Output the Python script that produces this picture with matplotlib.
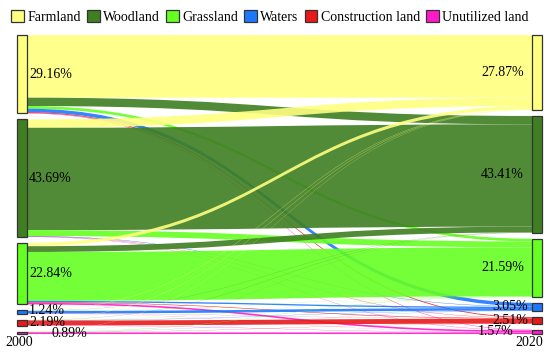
import numpy as np
import matplotlib
matplotlib.use("Agg")
import matplotlib.pyplot as plt
from matplotlib.patches import Rectangle, PathPatch, Patch
from matplotlib.path import Path

plt.rcParams['font.family'] = ['Liberation Serif', 'DejaVu Serif']

classes = ["Farmland", "Woodland", "Grassland", "Waters", "Construction land", "Unutilized land"]
colors = ["#FFFF80", "#3F7F22", "#66FF22", "#1E78FF", "#E8191A", "#FF19C8"]
share_2000 = [29.16, 43.69, 22.84, 1.24, 2.19, 0.89]
share_2020 = [27.87, 43.41, 21.59, 3.05, 2.51, 1.57]
years = ["2000", "2020"]

# land transfer 2000 (rows) -> 2020 (cols), % of total area
flows = np.array([
    [23.30, 3.10, 1.00, 1.30, 0.30, 0.16],
    [3.10, 38.04, 2.20, 0.15, 0.10, 0.10],
    [1.20, 2.15, 18.19, 0.50, 0.20, 0.60],
    [0.10, 0.05, 0.05, 0.95, 0.05, 0.04],
    [0.10, 0.05, 0.05, 0.10, 1.80, 0.09],
    [0.07, 0.02, 0.10, 0.05, 0.06, 0.59],
])

# layout (pixel-like units, y downwards)
W, H = 550, 355
top = 35
k = 2.69      # px per percent
gap = 6
node_w = 10
xl, xr = 17, 532

fig = plt.figure(figsize=(W / 100, H / 100), dpi=100)
ax = fig.add_axes([0, 0, 1, 1])
ax.set_xlim(0, W)
ax.set_ylim(H, 0)
ax.axis('off')


def node_tops(sizes):
    tops = []
    y = top
    for s in sizes:
        tops.append(y)
        y += s * k + gap
    return tops


out_tot = flows.sum(axis=1)
in_tot = flows.sum(axis=0)
ltop = node_tops(out_tot)
rtop = node_tops(in_tot)

# links: coloured by target, drawn source by source
src_off = list(ltop)
tgt_off = list(rtop)
x0, x1 = xl + node_w, xr
xm = (x0 + x1) / 2
for i in range(len(classes)):
    for j in range(len(classes)):
        h = flows[i, j] * k
        sy0, ty0 = src_off[i], tgt_off[j]
        sy1, ty1 = sy0 + h, ty0 + h
        src_off[i] = sy1
        tgt_off[j] = ty1
        verts = [(x0, sy0), (xm, sy0), (xm, ty0), (x1, ty0),
                 (x1, ty1), (xm, ty1), (xm, sy1), (x0, sy1), (x0, sy0)]
        codes = [Path.MOVETO, Path.CURVE4, Path.CURVE4, Path.CURVE4,
                 Path.LINETO, Path.CURVE4, Path.CURVE4, Path.CURVE4, Path.CLOSEPOLY]
        ax.add_patch(PathPatch(Path(verts, codes), facecolor=colors[j],
                               edgecolor='none', alpha=0.9, zorder=1))

# nodes
for i, c in enumerate(colors):
    ax.add_patch(Rectangle((xl, ltop[i]), node_w, out_tot[i] * k, facecolor=c,
                           edgecolor='#333333', lw=0.9, zorder=3))
    ax.add_patch(Rectangle((xr, rtop[i]), node_w, in_tot[i] * k, facecolor=c,
                           edgecolor='#333333', lw=0.9, zorder=3))

# labels (small nodes nudged apart as in the original)
lshift = [0, 0, 0, 0, 0, 23]
ldy = [0, 0, 0, -2, 0, 1]
rshift = [0, 0, 0, 4, 4, -11]
for i in range(len(classes)):
    ax.text(xl + node_w + 2 + lshift[i], ltop[i] + out_tot[i] * k / 2 + ldy[i], f"{share_2000[i]:.2f}%",
            ha='left', va='center', fontsize=10, zorder=4)
    ax.text(xr - 8 + rshift[i], rtop[i] + in_tot[i] * k / 2, f"{share_2020[i]:.2f}%",
            ha='right', va='center', fontsize=10, zorder=4)

ax.text(xl + 2, 342, years[0], ha='center', va='center', fontsize=10)
ax.text(xr + node_w + 1, 342, years[1], ha='right', va='center', fontsize=10)

handles = [Patch(facecolor=c, edgecolor='#333333', lw=0.9, label=n) for n, c in zip(classes, colors)]
fig.legend(handles=handles, loc='upper left', bbox_to_anchor=(0.008, 0.99), ncol=6,
           frameon=False, fontsize=10, handlelength=0.9, handleheight=0.9,
           handletextpad=0.25, columnspacing=0.45, borderaxespad=0.3, borderpad=0.2)

fig.savefig("out.png", dpi=100)
